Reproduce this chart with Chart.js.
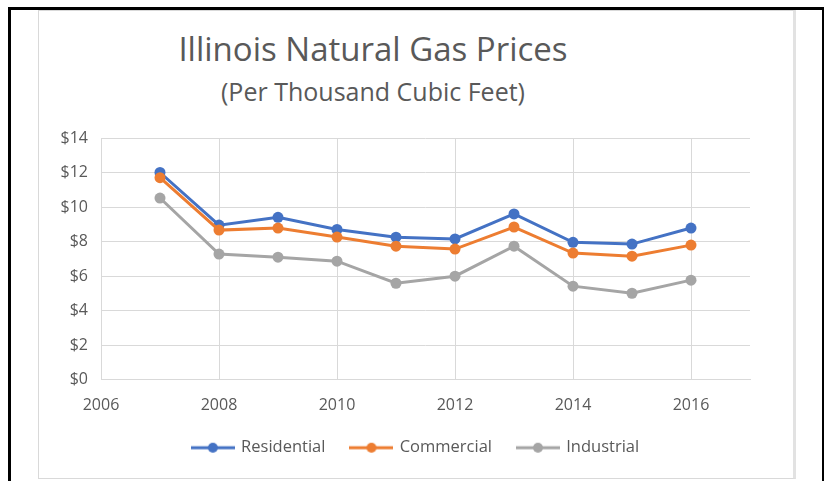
<!DOCTYPE html>
<html>
<head>
<meta charset="utf-8">
<script src="https://cdn.jsdelivr.net/npm/chart.js@4.4.1/dist/chart.umd.min.js"></script>
<style>
  body { margin: 0; background: #fff; font-family: "Open Sans", sans-serif; }
  .frame { position: absolute; left: 8px; top: 7px; width: 811px; height: 480px; border: 3px solid #000; border-bottom: none; }
  .box { position: absolute; left: 38px; top: 10px; width: 754px; height: 467px; border: 1px solid #d9d9d9; border-right: 3px solid #e2e2e2; }
  .title { position: absolute; left: -42px; width: 752px; text-align: center; color: #595959; line-height: 1; white-space: nowrap; }
  .t1 { top: 21px; font-size: 33px; }
  .t2 { top: 68px; font-size: 25px; }
  canvas { position: absolute; left: 0; top: 0; }
</style>
</head>
<body>
<div class="frame"></div>
<div class="box">
  <div class="title t1">Illinois Natural Gas Prices</div>
  <div class="title t2">(Per Thousand Cubic Feet)</div>
  <canvas id="c" width="754" height="455"></canvas>
</div>
<script>
const years       = [2007, 2008, 2009, 2010, 2011, 2012, 2013, 2014, 2015, 2016];
const residential = [12.0, 8.95, 9.4, 8.7, 8.25, 8.15, 9.6, 7.95, 7.85, 8.78];
const commercial  = [11.7, 8.66, 8.78, 8.26, 7.73, 7.56, 8.84, 7.33, 7.15, 7.79];
const industrial  = [10.52, 7.27, 7.09, 6.86, 5.58, 5.99, 7.73, 5.41, 5.0, 5.76];
const seriesNames = ["Residential", "Commercial", "Industrial"];
const colors      = ["#4472C4", "#ED7D31", "#A5A5A5"];

const pts = (vals) => years.map((yr, i) => ({ x: yr, y: vals[i] }));

// little line-with-dot swatch for the legend
function swatch(col) {
  const c = document.createElement("canvas");
  c.width = 44; c.height = 14;
  const g = c.getContext("2d");
  g.strokeStyle = col; g.lineWidth = 3;
  g.beginPath(); g.moveTo(0, 7); g.lineTo(44, 7); g.stroke();
  g.fillStyle = col;
  g.beginPath(); g.arc(22, 7, 5, 0, Math.PI * 2); g.fill();
  return c;
}

const grid = "#d9d9d9";
const tickFont = { family: "Open Sans", size: 16 };

new Chart(document.getElementById("c"), {
  type: "line",
  data: {
    datasets: [residential, commercial, industrial].map((v, i) => ({
      label: seriesNames[i],
      data: pts(v),
      borderColor: colors[i],
      backgroundColor: colors[i],
      borderWidth: 3,
      pointRadius: 5.5,
      pointBackgroundColor: colors[i],
      pointBorderWidth: 0,
      tension: 0,
      order: 3 - i,
    })),
  },
  options: {
    responsive: false,
    animation: false,
    layout: { padding: { top: 127, right: 0, bottom: 0, left: 0 } },
    plugins: {
      title: { display: false },
      tooltip: { enabled: false },
      legend: {
        position: "bottom",
        labels: {
          usePointStyle: true,
          pointStyleWidth: 40,
          padding: 26,
          color: "#595959",
          font: { family: "Open Sans", size: 16.5 },
          generateLabels: (chart) => chart.data.datasets.map((d, i) => ({
            text: d.label,
            pointStyle: swatch(colors[i]),
            fillStyle: colors[i],
            strokeStyle: colors[i],
            lineWidth: 0,
            fontColor: "#595959",
            datasetIndex: i,
          })),
        },
      },
    },
    scales: {
      x: {
        type: "linear",
        min: 2006, max: 2017,
        afterFit: (s) => { s.height = 34; },
        ticks: { stepSize: 2, includeBounds: false, padding: 16, color: "#595959", font: tickFont, callback: (v) => String(v) },
        grid: { color: grid, drawTicks: false },
        border: { color: grid },
      },
      y: {
        min: 0, max: 14,
        afterFit: (s) => { s.width = 62; },
        ticks: { stepSize: 2, padding: 13, color: "#595959", font: tickFont, callback: (v) => "$" + v },
        grid: { color: grid, drawTicks: false },
        border: { display: false },
      },
      // empty right-hand spacer so the legend stays centred on the whole box
      spacer: {
        position: "right",
        min: 0, max: 14,
        afterFit: (s) => { s.width = 43; },
        ticks: { display: false },
        grid: { display: false },
        border: { display: false },
      },
    },
  },
});
</script>
</body>
</html>
